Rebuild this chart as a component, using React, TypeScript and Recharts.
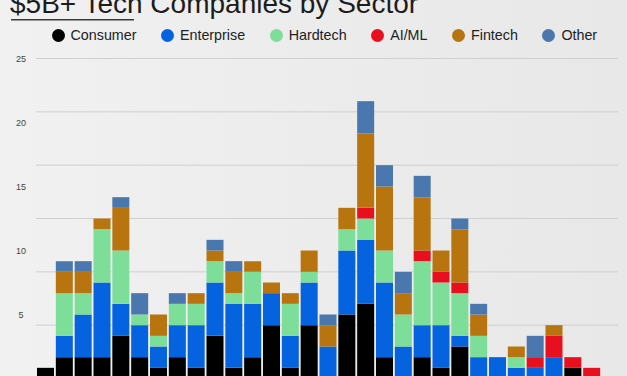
import React from 'react';
import { BarChart, Bar, Line, XAxis, YAxis, CartesianGrid, ComposedChart } from 'recharts';

const categories = ['1994','1995','1996','1997','1998','1999','2000','2001','2002','2003','2004','2005','2006','2007','2008','2009','2010','2011','2012','2013','2014','2015','2016','2017','2018','2019','2020','2021','2022','2023'];
const consumer   = [1,2,2,2,4,2,1,2,1,4,1,2,5,1,5,0,6,7,2,0,2,1,3,0,0,0,0,0,1,0];
const enterprise = [0,2,4,7,3,3,2,3,4,5,6,5,3,3,4,3,6,6,7,3,3,4,1,2,2,1,1,2,0,0];
const hardtech   = [0,4,2,5,5,1,1,2,2,2,1,3,0,3,1,0,2,2,3,3,6,4,4,2,0,1,0,0,0,0];
const aiml       = [0,0,0,0,0,0,0,0,0,0,0,0,0,0,0,0,0,1,0,0,1,1,1,0,0,0,1,2,1,1];
const fintech    = [0,2,2,1,4,0,2,0,1,1,2,1,1,1,2,2,2,7,6,2,5,2,5,2,0,1,0,1,0,0];
const other      = [0,1,1,0,1,2,0,1,0,1,1,0,0,0,0,1,0,3,2,2,2,0,1,1,0,0,2,0,0,0];

const gridTicks = [0, 5, 10, 15, 20, 25, 30];
const labelTicks = [5, 10, 15, 20, 25];

const title = '$5B+ Tech Companies by Sector';

const series = [
  { key: 'consumer', name: 'Consumer', color: '#000000', values: consumer },
  { key: 'enterprise', name: 'Enterprise', color: '#0563E0', values: enterprise },
  { key: 'hardtech', name: 'Hardtech', color: '#7DDE99', values: hardtech },
  { key: 'aiml', name: 'AI/ML', color: '#E8101E', values: aiml },
  { key: 'fintech', name: 'Fintech', color: '#B8750F', values: fintech },
  { key: 'other', name: 'Other', color: '#4A78AE', values: other },
];

const data = categories.map((c, i) => {
  const row: Record<string, any> = { name: c };
  series.forEach((s) => { row[s.key] = s.values[i]; });
  return row;
});

const FONT = '"Liberation Sans", Arial, sans-serif';

const LabelTick = (props: any) => {
  const { y, payload } = props;
  return (
    <text x={21} y={y} dy={3.2} textAnchor="middle" fontSize={9} fill="#444" fontFamily={FONT}>
      {payload.value}
    </text>
  );
};

export default function App() {
  return (
    <div
      style={{
        position: 'absolute',
        left: 0,
        top: 0,
        width: 627,
        height: 376,
        overflow: 'hidden',
        background: 'linear-gradient(90deg, #f1f1f1 0%, #ebebeb 60%, #e8e8e8 100%)',
        fontFamily: FONT,
      }}
    >
      <svg width={627} height={26} style={{ position: 'absolute', left: 0, top: 0 }}>
        <text x={10} y={12.7} fontSize={28} fill="#1c1c1c" fontFamily={FONT}>{title}</text>
        <line x1={11} x2={134} y1={19.8} y2={19.8} stroke="#3a3a3a" strokeWidth={1.6} />
      </svg>
      <div
        style={{
          position: 'absolute',
          left: 51.5,
          top: 26,
          height: 18,
          display: 'flex',
          alignItems: 'center',
          whiteSpace: 'nowrap',
        }}
      >
        {series.map((s) => (
          <div key={s.key} style={{ display: 'flex', alignItems: 'center', marginRight: 24.5 }}>
            <span
              style={{
                width: 13,
                height: 13,
                borderRadius: '50%',
                background: s.color,
                display: 'inline-block',
                marginRight: 6,
              }}
            />
            <span style={{ fontSize: 14.3, color: '#222', lineHeight: '18px' }}>{s.name}</span>
          </div>
        ))}
      </div>
      <div style={{ position: 'absolute', left: 0, top: 0 }}>
        <ComposedChart
          width={627}
          height={400}
          data={data}
          margin={{ top: 58.5, right: 9, left: 0, bottom: 21.5 }}
        >
          <CartesianGrid
            yAxisId="grid"
            vertical={false}
            stroke="#cfcfcf"
            strokeWidth={1}
          />
          <XAxis dataKey="name" hide padding={{ left: 0, right: 17 }} />
          <YAxis yAxisId="grid" domain={[0, 30]} ticks={gridTicks} hide />
          <YAxis
            yAxisId="lab"
            domain={[0, 25]}
            allowDataOverflow
            ticks={labelTicks}
            width={36}
            axisLine={false}
            tickLine={false}
            tick={<LabelTick />}
          />
          {series.map((s) => (
            <Bar
              key={s.key}
              dataKey={s.key}
              name={s.name}
              stackId="a"
              yAxisId="grid"
              fill={s.color}
              barSize={17}
              isAnimationActive={false}
            />
          ))}
          <Line
            yAxisId="lab"
            dataKey="consumer"
            stroke="none"
            dot={false}
            activeDot={false}
            legendType="none"
            isAnimationActive={false}
          />
        </ComposedChart>
      </div>
    </div>
  );
}
